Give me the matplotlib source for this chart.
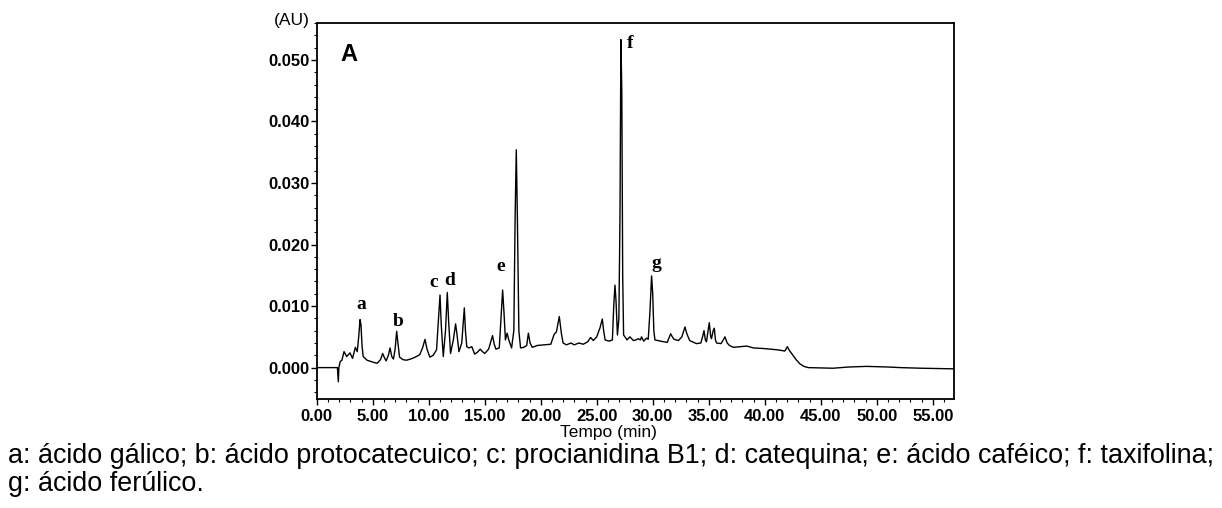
import numpy as np
import matplotlib
matplotlib.use("Agg")
import matplotlib.pyplot as plt
from matplotlib.ticker import MultipleLocator, FormatStrFormatter

plt.rcParams['font.family'] = ['Liberation Sans', 'DejaVu Sans']

# chromatogram trace (min, AU)
tempo = [0.0, 1.85, 1.93, 1.98, 2.10, 2.25, 2.44, 2.68, 2.97, 3.20, 3.45, 3.62, 3.75, 3.87, 3.95,
         4.05, 4.15, 4.50, 5.00, 5.40, 5.70, 5.89, 6.05, 6.20, 6.40, 6.55, 6.70, 6.85, 7.00, 7.14,
         7.25, 7.40, 7.70, 8.00, 8.40, 8.80, 9.20, 9.45, 9.67, 9.85, 10.10, 10.40, 10.70, 10.88,
         11.01, 11.12, 11.30, 11.50, 11.66, 11.78, 11.95, 12.20, 12.40, 12.52, 12.70, 12.95, 13.18,
         13.28, 13.40, 13.60, 13.85, 14.10, 14.35, 14.60, 14.80, 15.00, 15.35, 15.70, 15.85, 16.00,
         16.30, 16.45, 16.60, 16.72, 16.85, 17.00, 17.15, 17.40, 17.60, 17.72, 17.82, 17.92, 18.05,
         18.20, 18.50, 18.75, 18.90, 19.05, 19.25, 19.70, 20.30, 20.90, 21.20, 21.40, 21.66, 21.85,
         22.00, 22.30, 22.70, 23.00, 23.40, 23.80, 24.20, 24.45, 24.70, 25.00, 25.30, 25.50, 25.62,
         25.75, 26.10, 26.40, 26.52, 26.63, 26.72, 26.85, 26.98, 27.08, 27.16, 27.24, 27.32, 27.40,
         27.60, 27.70, 27.97, 28.27, 28.50, 28.70, 28.90, 29.00, 29.20, 29.45, 29.60, 29.75, 29.90,
         30.00, 30.10, 30.20, 30.70, 31.30, 31.60, 31.75, 31.90, 32.30, 32.60, 32.88, 33.05, 33.30,
         33.90, 34.30, 34.45, 34.58, 34.70, 34.80, 34.95, 35.05, 35.18, 35.25, 35.40, 35.50, 35.60,
         35.70, 36.10, 36.30, 36.45, 36.65, 36.85, 37.20, 38.40, 39.00, 39.90, 41.10, 41.80, 42.02,
         42.20, 42.40, 42.80, 43.15, 43.50, 43.90, 46.10, 47.50, 49.10, 51.00, 52.10, 54.00, 56.90]
absorb = [0.0000, 0.0000, -0.0023, 0.0000, 0.0010, 0.0012, 0.0026, 0.0018, 0.0024, 0.0015, 0.0033,
          0.0026, 0.0050, 0.0078, 0.0070, 0.0035, 0.0018, 0.0012, 0.0009, 0.0007, 0.0013, 0.0023,
          0.0016, 0.0011, 0.0020, 0.0032, 0.0018, 0.0014, 0.0030, 0.0059, 0.0040, 0.0017, 0.0013,
          0.0012, 0.0014, 0.0017, 0.0021, 0.0032, 0.0046, 0.0030, 0.0017, 0.0020, 0.0029, 0.0080,
          0.0118, 0.0070, 0.0018, 0.0060, 0.0122, 0.0075, 0.0023, 0.0045, 0.0071, 0.0055, 0.0026,
          0.0040, 0.0097, 0.0060, 0.0034, 0.0032, 0.0034, 0.0022, 0.0025, 0.0030, 0.0026, 0.0023,
          0.0030, 0.0052, 0.0038, 0.0030, 0.0032, 0.0080, 0.0126, 0.0090, 0.0045, 0.0056, 0.0045,
          0.0032, 0.0060, 0.0250, 0.0354, 0.0240, 0.0060, 0.0032, 0.0033, 0.0036, 0.0056, 0.0040,
          0.0033, 0.0036, 0.0037, 0.0038, 0.0054, 0.0058, 0.0083, 0.0055, 0.0040, 0.0037, 0.0040,
          0.0037, 0.0040, 0.0038, 0.0042, 0.0049, 0.0044, 0.0050, 0.0065, 0.0079, 0.0060, 0.0045,
          0.0043, 0.0045, 0.0100, 0.0134, 0.0110, 0.0053, 0.0080, 0.0250, 0.0533, 0.0450, 0.0150,
          0.0053, 0.0048, 0.0045, 0.0050, 0.0044, 0.0045, 0.0047, 0.0045, 0.0050, 0.0043, 0.0048,
          0.0046, 0.0090, 0.0149, 0.0120, 0.0060, 0.0045, 0.0043, 0.0041, 0.0055, 0.0050, 0.0046,
          0.0044, 0.0050, 0.0066, 0.0055, 0.0044, 0.0039, 0.0040, 0.0050, 0.0060, 0.0045, 0.0042,
          0.0060, 0.0073, 0.0050, 0.0047, 0.0060, 0.0064, 0.0045, 0.0040, 0.0039, 0.0045, 0.0050,
          0.0040, 0.0036, 0.0033, 0.0035, 0.0032, 0.0031, 0.0029, 0.0027, 0.0034, 0.0028, 0.0023,
          0.0013, 0.0006, 0.0002, 0.0000, -0.0001, 0.0001, 0.0002, 0.0001, 0.0000, -0.0001, -0.0002]

# peak letters and where they sit
peak_labels = ['a', 'b', 'c', 'd', 'e', 'f', 'g']
label_t = [4.02, 7.29, 10.47, 11.90, 16.45, 28.00, 30.36]
label_y = [0.0102, 0.0075, 0.0139, 0.0142, 0.0165, 0.0527, 0.0170]

legenda = ["a: ácido gálico; b: ácido protocatecuico; c: procianidina B1; d: catequina; "
           "e: ácido caféico; f: taxifolina;",
           "g: ácido ferúlico."]

W, H = 1222, 508
fig = plt.figure(figsize=(W / 100, H / 100), dpi=100)
x0, x1, y0, y1 = 316.7, 954, 23, 399
ax = fig.add_axes([x0 / W, 1 - y1 / H, (x1 - x0) / W, (y1 - y0) / H])

ax.plot(tempo, absorb, color='black', lw=1.0)
ax.set_xlim(0, 56.9)
ax.set_ylim(-0.0051, 0.056)

for s in ax.spines.values():
    s.set_linewidth(1.3)

ax.xaxis.set_major_locator(MultipleLocator(5))
ax.xaxis.set_minor_locator(MultipleLocator(1))
ax.yaxis.set_major_locator(MultipleLocator(0.01))
ax.yaxis.set_minor_locator(MultipleLocator(0.002))
ax.xaxis.set_major_formatter(FormatStrFormatter('%.2f'))
ax.yaxis.set_major_formatter(FormatStrFormatter('%.3f'))
ax.tick_params(axis='both', which='major', length=4, width=1.0, direction='out')
ax.tick_params(axis='both', which='minor', length=2, width=0.8, direction='out')
ax.tick_params(axis='x', which='major', pad=3)
ax.tick_params(axis='y', which='major', pad=1)
for lab in ax.get_xticklabels() + ax.get_yticklabels():
    lab.set_fontweight('bold')
    lab.set_fontsize(12)

for lab, t, y in zip(peak_labels, label_t, label_y):
    ax.text(t, y, lab, family='Liberation Serif', fontweight='bold', fontsize=14,
            ha='center', va='center')

ax.text(2.9, 0.0509, 'A', fontsize=17, fontweight='bold', ha='center', va='center')

fig.text(292 / W, 1 - 20 / H, '(AU)', fontsize=12.5, ha='center', va='center')
fig.text(608 / W, 1 - 437 / H, 'Tempo (min)', fontsize=12.5, ha='center', va='baseline')

fig.text(8 / W, 1 - 463 / H, legenda[0], fontsize=19.35, ha='left', va='baseline')
fig.text(8 / W, 1 - 491 / H, legenda[1], fontsize=19.35, ha='left', va='baseline')

fig.savefig('out.png', dpi=100)
